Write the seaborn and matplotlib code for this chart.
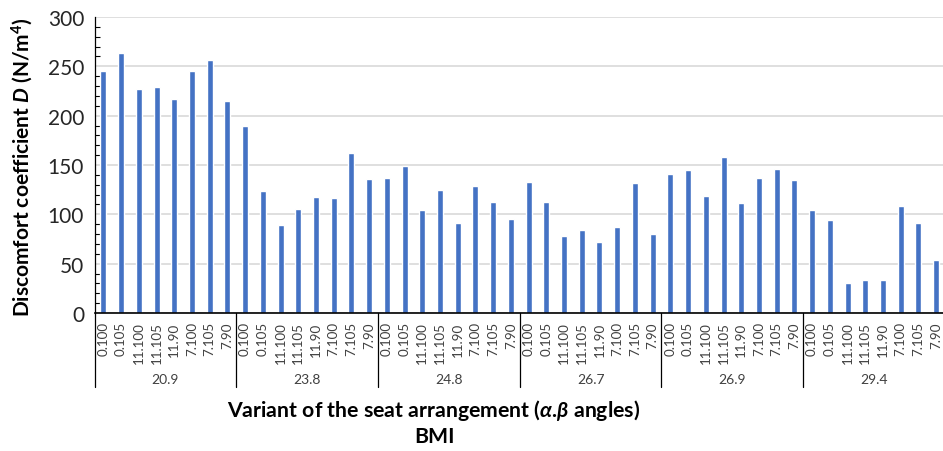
import matplotlib
matplotlib.use("Agg")
import matplotlib.pyplot as plt
import matplotlib.transforms as mtransforms
from matplotlib.ticker import MultipleLocator
import seaborn as sns
import pandas as pd

# ---- data ----
bmi_groups = ["20.9", "23.8", "24.8", "26.7", "26.9", "29.4"]
variants = ["0.100", "0.105", "11.100", "11.105", "11.90", "7.100", "7.105", "7.90"]
d_209 = [245, 264, 227, 229, 217, 245, 256, 215]
d_238 = [190, 124, 89, 105, 118, 117, 162, 136]
d_248 = [137, 149, 104, 125, 91, 129, 112, 95]
d_267 = [133, 112, 78, 84, 72, 87, 132, 80]
d_269 = [141, 145, 119, 158, 111, 137, 146, 135]
d_294 = [104, 94, 30, 33, 33, 108, 91, 54]
series = [d_209, d_238, d_248, d_267, d_269, d_294]

rows = []
for g, vals in zip(bmi_groups, series):
    for v, d in zip(variants, vals):
        rows.append({"key": f"{g}|{v}", "bmi": g, "variant": v, "D": d})
df = pd.DataFrame(rows)

sns.set_style("white")
plt.rcParams["font.family"] = ["Lato", "DejaVu Sans"]
plt.rcParams["mathtext.fontset"] = "custom"
plt.rcParams["mathtext.rm"] = "Lato"
plt.rcParams["mathtext.it"] = "Lato:italic"
plt.rcParams["mathtext.bf"] = "Lato:bold"
plt.rcParams["mathtext.bfit"] = "Lato:italic:bold"

fig = plt.figure(figsize=(9.43, 4.52), dpi=100)
W, H = 943, 452
ax = fig.add_axes([94.5 / W, 1 - 314 / H, (945 - 94.5) / W, (314 - 18) / H])

sns.barplot(data=df, x="key", y="D", color="#4472C4", width=0.34,
            saturation=1, errorbar=None, ax=ax, order=df["key"].tolist())

ax.set_xlim(-0.5, len(df) - 0.5)
ax.set_ylim(0, 300)
ax.yaxis.set_major_locator(MultipleLocator(50))
ax.yaxis.set_minor_locator(MultipleLocator(10))
ax.grid(axis="y", which="major", color="#D9D9D9", linewidth=1.2)
ax.set_axisbelow(True)

for s in ["top", "right"]:
    ax.spines[s].set_visible(False)
ax.spines["left"].set_color("#000000")
ax.spines["left"].set_linewidth(0.9)
ax.spines["bottom"].set_color("#000000")
ax.spines["bottom"].set_linewidth(1.2)

ax.tick_params(axis="y", which="major", direction="inout", length=11, width=0.9,
               labelsize=15, pad=2, colors="#000000", labelcolor="#262626")
ax.tick_params(axis="y", which="minor", direction="in", length=3.5, width=0.8,
               left=True, colors="#000000")
ax.tick_params(axis="x", length=0, pad=6, labelsize=9.6, labelcolor="#404040")
ax.set_xticks(range(len(df)))
ax.set_xticklabels(df["variant"], rotation=90, va="top", ha="center")
ax.set_xlabel("")
ax.set_ylabel("")

# group labels and separators
trans = mtransforms.blended_transform_factory(ax.transData, ax.transAxes)
n = len(variants)
ah = 314 - 18
for i, g in enumerate(bmi_groups):
    left = i * n - 0.5
    center = i * n + (n - 1) / 2
    ax.text(center, -(380 - 314) / ah, g, transform=trans, ha="center",
            va="center", fontsize=10, color="#404040")
    ax.plot([left, left], [0, -(388 - 314) / ah], transform=trans,
            color="#000000", linewidth=0.9, clip_on=False)

fig.text(22 / W, 1 - 167 / H,
         r"Discomfort coefficient $\mathbfit{D}$ (N/m$^{\mathbf{4}}$)",
         rotation=90, ha="center", va="center", fontsize=15,
         fontweight="bold", color="#000000")
fig.text(434 / W, 1 - 411 / H,
         r"Variant of the seat arrangement ($\mathbfit{α}$.$\mathbfit{β}$ angles)",
         ha="center", va="center", fontsize=15.3, fontweight="bold", color="#000000")
fig.text(434 / W, 1 - 437 / H, "BMI", ha="center", va="center",
         fontsize=15.3, fontweight="bold", color="#000000")

fig.savefig("out.png", dpi=100)
